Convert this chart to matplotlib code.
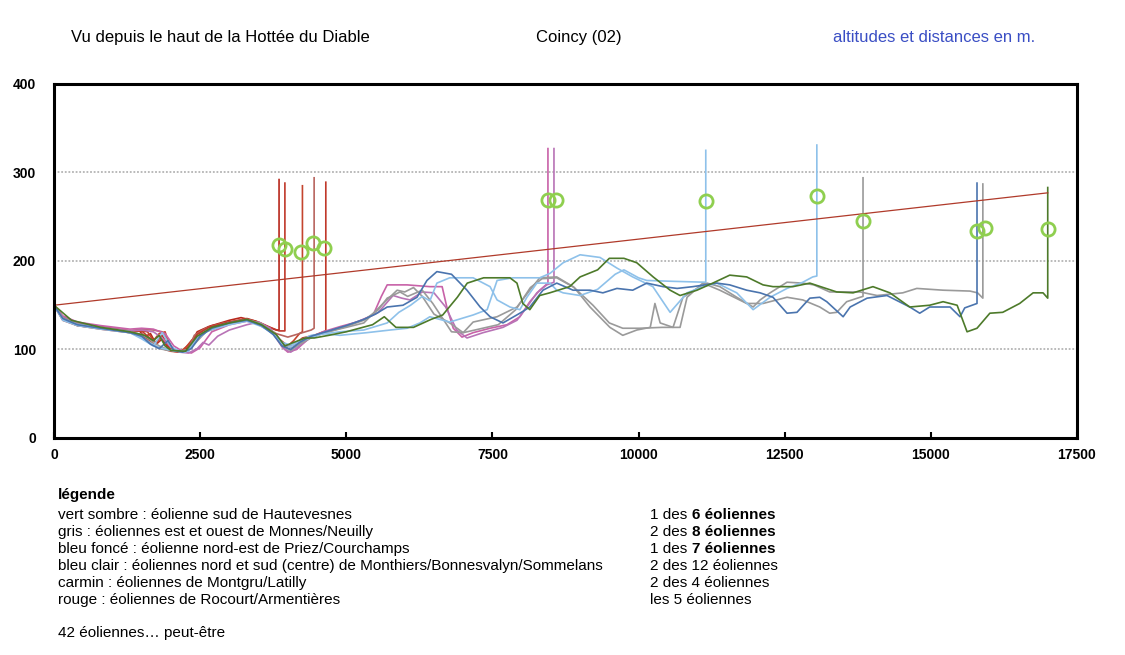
import matplotlib.pyplot as plt

plt.rcParams['font.family'] = ['Liberation Sans', 'DejaVu Sans']

# profils : distance (m), altitude (m) ; dernier point = haut de l'eolienne
rouge1_d = [0, 150, 400, 800, 1300, 1450, 1550, 1650, 1750, 1850, 1950, 2050, 2200, 2320, 2450, 2650, 3000, 3200, 3450, 3650, 3800, 3850, 3850]
rouge1_h = [150, 136, 129, 125, 121, 122, 114, 118, 106, 112, 102, 98, 97, 104, 120, 126, 133, 136, 132, 126, 122, 122, 292]
rouge2_d = [0, 150, 400, 800, 1300, 1500, 1650, 1750, 1850, 1950, 2050, 2200, 2350, 2500, 2700, 3000, 3300, 3500, 3700, 3850, 3950, 3950]
rouge2_h = [150, 134, 128, 124, 120, 121, 112, 108, 116, 104, 99, 98, 110, 121, 127, 131, 135, 131, 125, 121, 121, 288]
rouge3_d = [0, 150, 400, 800, 1300, 1500, 1600, 1700, 1800, 1900, 2000, 2150, 2300, 2450, 2650, 2950, 3250, 3500, 3700, 3850, 4000, 4100, 4200, 4250, 4250]
rouge3_h = [150, 137, 130, 126, 121, 121, 120, 110, 118, 120, 100, 97, 105, 118, 125, 130, 134, 130, 123, 112, 104, 110, 118, 120, 285]
rouge4_d = [0, 150, 400, 800, 1300, 1500, 1700, 1850, 1950, 2050, 2150, 2300, 2400, 2600, 2900, 3200, 3400, 3600, 3800, 4000, 4200, 4400, 4450, 4450]
rouge4_h = [150, 135, 127, 124, 121, 123, 122, 120, 110, 99, 97, 100, 116, 124, 130, 133, 132, 126, 118, 114, 118, 122, 124, 294]
rouge5_d = [0, 150, 400, 800, 1300, 1450, 1600, 1750, 1900, 2000, 2150, 2300, 2450, 2650, 3000, 3300, 3500, 3700, 3850, 3950, 4100, 4250, 4450, 4650, 4650]
rouge5_h = [150, 133, 127, 123, 119, 116, 112, 103, 100, 98, 97, 99, 117, 125, 131, 133, 128, 121, 110, 103, 105, 113, 116, 121, 289]

carmin1_d = [0, 150, 400, 800, 1300, 1500, 1700, 1900, 2050, 2200, 2350, 2500, 2700, 3000, 3300, 3550, 3750, 3900, 4000, 4150, 4350, 4600, 4900, 5180, 5460, 5600, 5700, 6040, 6430, 6640, 6720, 6830, 6980, 7170, 7460, 7750, 7970, 8140, 8310, 8450, 8450]
carmin1_h = [150, 138, 131, 127, 123, 124, 123, 118, 104, 98, 96, 102, 120, 128, 132, 128, 118, 103, 97, 100, 112, 120, 126, 131, 139, 160, 173, 173, 171, 171, 148, 124, 114, 119, 124, 128, 137, 154, 167, 175, 327]
carmin2_d = [0, 150, 400, 800, 1300, 1500, 1700, 1850, 2000, 2150, 2300, 2450, 2550, 2650, 2800, 3000, 3300, 3500, 3700, 3850, 3950, 4050, 4200, 4400, 4700, 5000, 5300, 5550, 5800, 5950, 6090, 6300, 6500, 6700, 6890, 7065, 7340, 7680, 7920, 8090, 8260, 8430, 8553, 8553]
carmin2_h = [150, 136, 129, 125, 121, 122, 120, 113, 103, 97, 96, 101, 108, 105, 115, 122, 128, 131, 124, 110, 100, 97, 104, 114, 121, 127, 134, 142, 161, 158, 156, 165, 164, 148, 122, 113, 119, 125, 133, 148, 164, 173, 176, 327]

clair1_d = [0, 150, 400, 800, 1300, 1500, 1700, 1850, 2000, 2150, 2300, 2450, 2650, 3000, 3300, 3550, 3750, 3900, 4050, 4200, 4400, 4890, 5300, 5700, 5900, 6100, 6300, 6430, 6550, 6770, 7170, 7460, 7580, 7800, 7970, 8090, 8260, 8485, 8600, 8710, 9000, 9300, 9600, 9750, 10000, 10140, 10600, 11150, 11150]
clair1_h = [150, 133, 127, 123, 119, 112, 104, 119, 103, 98, 98, 112, 122, 129, 133, 127, 117, 106, 103, 110, 116, 120, 122, 130, 142, 150, 160, 155, 175, 181, 181, 171, 156, 148, 145, 159, 175, 175, 167, 164, 161, 168, 185, 190, 181, 178, 177, 176, 325]
clair2_d = [0, 150, 400, 800, 1300, 1500, 1650, 1800, 1950, 2100, 2250, 2400, 2600, 3000, 3300, 3550, 3750, 3900, 4050, 4250, 4600, 4890, 5350, 5750, 6040, 6260, 6430, 6600, 6770, 7170, 7410, 7580, 7850, 8310, 8485, 8710, 9000, 9340, 9630, 9900, 10245, 10540, 10830, 11100, 11340, 11680, 11960, 12250, 12540, 12810, 12980, 13050, 13050]
clair2_h = [150, 134, 128, 124, 120, 113, 107, 102, 100, 98, 97, 110, 121, 128, 132, 126, 118, 108, 105, 110, 118, 116, 119, 122, 124, 130, 137, 134, 131, 139, 145, 178, 181, 181, 186, 198, 207, 204, 192, 182, 171, 142, 164, 171, 175, 164, 145, 159, 169, 176, 182, 183, 331]

gris1_d = [0, 150, 400, 800, 1300, 1500, 1650, 1800, 1950, 2150, 2300, 2450, 2650, 3000, 3300, 3550, 3750, 3900, 4000, 4150, 4350, 4700, 5000, 5300, 5550, 5700, 5920, 6050, 6300, 6480, 6650, 6800, 7000, 7170, 7580, 7920, 8140, 8310, 8600, 8880, 9220, 9500, 9730, 10020, 10400, 10710, 10830, 11100, 11390, 11850, 12130, 12540, 12810, 13100, 13270, 13390, 13560, 13790, 13840, 13840]
gris1_h = [150, 135, 127, 124, 119, 114, 108, 101, 99, 98, 100, 112, 123, 130, 133, 128, 120, 108, 101, 104, 113, 120, 126, 133, 145, 158, 165, 160, 167, 152, 135, 120, 119, 131, 137, 148, 167, 181, 182, 171, 150, 130, 124, 124, 125, 125, 159, 175, 167, 152, 152, 159, 156, 148, 141, 142, 154, 159, 160, 294]
gris2_d = [0, 150, 400, 800, 1300, 1500, 1650, 1800, 1950, 2100, 2250, 2400, 2600, 3000, 3300, 3550, 3750, 3900, 4050, 4200, 4450, 4750, 5000, 5300, 5600, 5870, 6000, 6150, 6300, 6500, 6770, 7000, 7200, 7600, 7900, 8150, 8350, 8600, 8900, 9170, 9510, 9730, 9970, 10200, 10280, 10370, 10590, 10760, 11050, 11170, 11390, 11680, 11960, 12080, 12250, 12540, 12810, 13000, 13270, 13790, 14080, 14520, 14760, 15210, 15670, 15800, 15890, 15890]
gris2_h = [150, 136, 129, 125, 120, 117, 111, 104, 100, 98, 98, 106, 120, 129, 134, 129, 119, 104, 99, 106, 115, 121, 125, 130, 150, 167, 165, 170, 160, 140, 130, 119, 122, 128, 145, 170, 180, 181, 170, 148, 125, 116, 122, 125, 152, 130, 125, 159, 171, 175, 171, 159, 148, 156, 164, 176, 175, 173, 165, 165, 161, 164, 169, 167, 166, 164, 158, 287]

fonce_d = [0, 150, 400, 800, 1300, 1500, 1650, 1800, 1950, 2050, 2200, 2350, 2500, 2700, 3000, 3300, 3550, 3750, 3900, 4050, 4200, 4400, 4700, 5000, 5300, 5500, 5700, 5970, 6210, 6380, 6550, 6800, 7065, 7290, 7460, 7680, 7970, 8140, 8365, 8600, 8880, 9170, 9390, 9630, 9900, 10140, 10420, 10660, 10930, 11340, 11560, 11850, 12080, 12300, 12540, 12710, 12930, 13100, 13220, 13500, 13620, 13910, 14250, 14640, 14810, 14980, 15330, 15500, 15580, 15790, 15790]
fonce_h = [150, 135, 128, 124, 119, 115, 106, 101, 110, 99, 97, 101, 115, 124, 130, 133, 127, 117, 104, 100, 108, 115, 121, 127, 134, 140, 148, 150, 159, 178, 188, 185, 167, 148, 137, 130, 141, 148, 167, 175, 167, 167, 164, 169, 167, 175, 171, 169, 171, 175, 173, 167, 164, 159, 141, 142, 158, 159, 154, 137, 148, 158, 161, 148, 141, 148, 148, 137, 147, 152, 288]

vert_d = [0, 300, 800, 1300, 1550, 1700, 1800, 1900, 2000, 2250, 2450, 2700, 3000, 3300, 3550, 3800, 3950, 4100, 4300, 4450, 4700, 5000, 5450, 5650, 5850, 6150, 6450, 6650, 6900, 7070, 7350, 7800, 7920, 8020, 8140, 8310, 8480, 8820, 9000, 9300, 9500, 9750, 9970, 10250, 10540, 10710, 11000, 11270, 11560, 11850, 12130, 12300, 12640, 12930, 13390, 13670, 14010, 14300, 14640, 14980, 15210, 15450, 15620, 15790, 16010, 16230, 16520, 16750, 16920, 17000, 17000]
vert_h = [150, 133, 125, 120, 116, 110, 116, 104, 99, 98, 115, 125, 130, 134, 128, 117, 104, 108, 113, 113, 116, 120, 128, 137, 125, 125, 134, 139, 159, 175, 181, 181, 175, 152, 145, 161, 164, 171, 182, 190, 203, 203, 198, 182, 167, 161, 167, 175, 184, 182, 173, 171, 171, 175, 165, 164, 171, 164, 148, 150, 154, 150, 120, 124, 141, 142, 152, 164, 164, 158, 283]

# ligne de visee depuis la Hottee du Diable
visee_d = [0, 17000]
visee_h = [150, 277]

# haut des pales vu (cercles verts)
pales_d = [3850, 3950, 4230, 4430, 4620, 8450, 8590, 11160, 13050, 13840, 15790, 15920, 17010]
pales_h = [218, 213, 210, 220, 215, 269, 269, 268, 273, 245, 234, 237, 236]

VERT = '#4d7a2a'
GRIS = '#9a9a9a'
FONCE = '#4a74ae'
CLAIR = '#8ec1ea'
CARMIN = '#c862a8'
ROUGE = '#c0392b'

fig = plt.figure(figsize=(11.25, 6.55), dpi=100)
ax = fig.add_axes([0.048, 0.3313, 0.9093, 0.5405])

lw = 1.2
ax.plot(rouge1_d, rouge1_h, color='#b8281c', lw=lw)
ax.plot(rouge2_d, rouge2_h, color=ROUGE, lw=lw)
ax.plot(rouge3_d, rouge3_h, color='#c4452e', lw=lw)
ax.plot(rouge4_d, rouge4_h, color='#b8655f', lw=lw)
ax.plot(rouge5_d, rouge5_h, color=ROUGE, lw=lw)
ax.plot(carmin1_d, carmin1_h, color=CARMIN, lw=lw)
ax.plot(carmin2_d, carmin2_h, color='#b873b6', lw=lw)
ax.plot(gris1_d, gris1_h, color=GRIS, lw=lw)
ax.plot(gris2_d, gris2_h, color=GRIS, lw=lw)
ax.plot(clair1_d, clair1_h, color=CLAIR, lw=lw)
ax.plot(clair2_d, clair2_h, color=CLAIR, lw=lw)
ax.plot(fonce_d, fonce_h, color=FONCE, lw=lw)
ax.plot(vert_d, vert_h, color=VERT, lw=lw)
ax.plot(visee_d, visee_h, color='#b03a2a', lw=0.9)
ax.plot(pales_d, pales_h, 'o', mfc='none', mec='#8fcf4f', mew=2.0, ms=9.5, ls='none')

ax.set_xlim(0, 17500)
ax.set_ylim(0, 400)
ax.set_xticks(range(0, 17501, 2500))
ax.set_yticks([0, 100, 200, 300, 400])
ax.yaxis.grid(True, color='#b4b4b4', ls=(0, (1, 1)), lw=1.3)
ax.set_axisbelow(True)
for s in ax.spines.values():
    s.set_linewidth(2.2)
ax.tick_params(axis='x', direction='in', length=4, width=1.5, pad=7, labelsize=10)
ax.tick_params(axis='y', length=0, pad=13, labelsize=10)
for lab in ax.get_xticklabels() + ax.get_yticklabels():
    lab.set_fontweight('bold')

# titres
fig.text(0.0631, 0.9435, "Vu depuis le haut de la Hottée du Diable", fontsize=12, va='center')
fig.text(0.4764, 0.9435, "Coincy (02)", fontsize=12, va='center')
fig.text(0.7404, 0.9435, "altitudes et distances en m.", fontsize=12, va='center', color='#3a4ec4')

# legende
fs = 11
fig.text(0.0516, 1 - 495 / 655, "légende", fontsize=fs, fontweight='bold', va='center')
lignes = [
    "vert sombre : éolienne sud de Hautevesnes",
    "gris : éoliennes est et ouest de Monnes/Neuilly",
    "bleu foncé : éolienne nord-est de Priez/Courchamps",
    "bleu clair : éoliennes nord et sud (centre) de Monthiers/Bonnesvalyn/Sommelans",
    "carmin : éoliennes de Montgru/Latilly",
    "rouge : éoliennes de Rocourt/Armentières",
]
nombres = [("1 des ", "6 éoliennes"), ("2 des ", "8 éoliennes"), ("1 des ", "7 éoliennes"),
           ("2 des 12 éoliennes", ""), ("2 des 4 éoliennes", ""), ("les 5 éoliennes", "")]
for i, (txt, (n1, n2)) in enumerate(zip(lignes, nombres)):
    y = 1 - (515 + 17 * i) / 655
    fig.text(0.0516, y, txt, fontsize=fs, va='center')
    t = fig.text(0.5778, y, n1, fontsize=fs, va='center')
    if n2:
        ax.annotate(n2, xy=(1, 0), xycoords=t, fontsize=fs, fontweight='bold',
                    va='bottom', ha='left', annotation_clip=False)
fig.text(0.0516, 1 - 633 / 655, "42 éoliennes… peut-être", fontsize=fs, va='center')

fig.savefig('out.png', dpi=100)
